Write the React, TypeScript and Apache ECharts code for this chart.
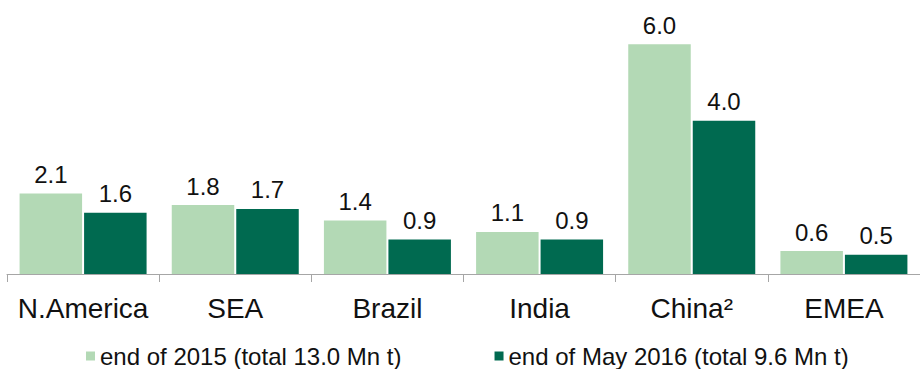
import React, { useEffect, useRef } from "react";
import * as echarts from "echarts";

const categories = ["N.America", "SEA", "Brazil", "India", "China²", "EMEA"];
const seriesNames = ["end of 2015 (total 13.0 Mn t)", "end of May 2016 (total 9.6 Mn t)"];
const values2015 = [2.1, 1.8, 1.4, 1.1, 6.0, 0.6];
const valuesMay2016 = [1.6, 1.7, 0.9, 0.9, 4.0, 0.5];
const colors = ["#b3d9b5", "#006a50"];

export default function App() {
  const ref = useRef<HTMLDivElement>(null);
  useEffect(() => {
    if (!ref.current) return;
    const chart = echarts.init(ref.current, undefined, { renderer: "svg" });
    const font = "Arial, 'Liberation Sans', sans-serif";
    const label = {
      show: true,
      position: "top",
      distance: 7,
      fontSize: 24,
      color: "#111",
      fontFamily: font,
      formatter: (p: any) => Number(p.value).toFixed(1),
    };
    chart.setOption({
      animation: false,
      grid: { left: 7, width: 919, top: 6, bottom: 95 },
      legend: {
        data: seriesNames,
        left: 81,
        top: 339,
        itemWidth: 9,
        itemHeight: 9,
        itemGap: 93,
        icon: "rect",
        textStyle: { fontSize: 24, color: "#111", fontFamily: font },
      },
      xAxis: {
        type: "category",
        data: categories,
        axisLine: { lineStyle: { color: "#a6a6a6", width: 1 } },
        axisTick: { show: true, length: 8, lineStyle: { color: "#a6a6a6" } },
        axisLabel: { fontSize: 28, color: "#111", fontFamily: font, margin: 20, interval: 0 },
      },
      yAxis: { type: "value", min: 0, max: 7, show: false, splitLine: { show: false } },
      series: [
        {
          name: seriesNames[0],
          type: "bar",
          data: values2015,
          barWidth: 62.5,
          barGap: "3.2%",
          itemStyle: { color: colors[0] },
          label,
        },
        {
          name: seriesNames[1],
          type: "bar",
          data: valuesMay2016,
          barWidth: 62.5,
          itemStyle: { color: colors[1] },
          label,
        },
      ],
    });
    return () => chart.dispose();
  }, []);
  return (
    <div
      ref={ref}
      style={{ position: "absolute", left: 0, top: 0, width: 920, height: 369, background: "#fff" }}
    />
  );
}
